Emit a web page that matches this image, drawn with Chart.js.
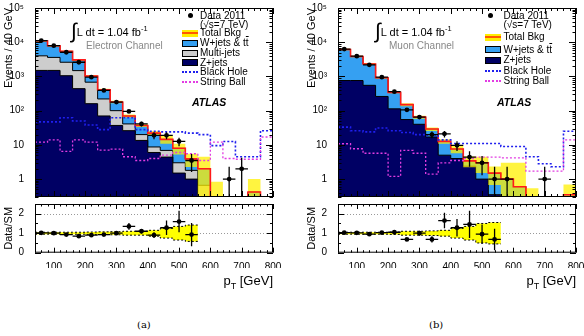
<!DOCTYPE html>
<html>
<head>
<meta charset="utf-8">
<script src="https://cdn.jsdelivr.net/npm/chart.js@4.4.1/dist/chart.umd.min.js"></script>
<style>
  html, body { margin: 0; padding: 0; background: #fff; }
  body { width: 584px; height: 336px; position: relative; overflow: hidden;
         font-family: "Liberation Sans", Arial, Helvetica, sans-serif; }
  .pad { position: absolute; }
  .txt { position: absolute; white-space: nowrap; color: #000; font-size: 10px; line-height: 12px; }
  .sym { position: absolute; box-sizing: border-box; }
  .dot { position: absolute; width: 5px; height: 5px; border-radius: 50%; background: #000; }
  .ov { text-decoration: overline; }
</style>
</head>
<body>
<div class="pad" style="left:0;top:0;width:290px;height:205px"><canvas id="elMain"></canvas></div>
<div class="pad" style="left:0;top:200px;width:290px;height:68px"><canvas id="elRatio"></canvas></div>
<div class="pad" style="left:303px;top:0;width:281px;height:205px"><canvas id="muMain"></canvas></div>
<div class="pad" style="left:303px;top:200px;width:281px;height:68px"><canvas id="muRatio"></canvas></div>

<!-- electron panel texts -->
<div class="txt" style="left:71px;top:22px;font-size:11px;line-height:14px"><span style="font-size:21px;position:relative;top:2px">&int;</span>L dt = 1.04 fb<sup style="font-size:7.5px">-1</sup></div>
<div class="txt" style="left:86px;top:40px;color:#888">Electron Channel</div>
<div class="txt" style="left:192px;top:96px;font-weight:bold;font-style:italic;font-size:10.5px">ATLAS</div>

<div class="dot" style="left:187.5px;top:13.2px"></div>
<div class="txt" style="left:200px;top:9.7px">Data 2011</div>
<div class="txt" style="left:200px;top:18.5px">(&radic;<span class="ov">s</span>=7 TeV)</div>
<div class="sym" style="left:182px;top:29.8px;width:16px;height:7px;background:#ffee00"></div>
<div class="sym" style="left:182px;top:32.3px;width:16px;height:2px;background:#ff5a00"></div>
<div class="txt" style="left:200px;top:27.3px">Total Bkg</div>
<div class="sym" style="left:182px;top:39.8px;width:16px;height:7px;background:#35a0f2;border:1px solid #000"></div>
<div class="txt" style="left:200px;top:37.3px">W+jets &amp; t<span class="ov">t</span></div>
<div class="sym" style="left:182px;top:49.8px;width:16px;height:7px;background:#cdcdcd;border:1px solid #000"></div>
<div class="txt" style="left:200px;top:47.3px">Multi-jets</div>
<div class="sym" style="left:182px;top:59.2px;width:16px;height:7px;background:#000064;border:1px solid #000"></div>
<div class="txt" style="left:200px;top:56.7px">Z+jets</div>
<div class="sym" style="left:182px;top:71.3px;width:16px;height:0;border-top:2px dotted #1f1fee"></div>
<div class="txt" style="left:200px;top:66.3px">Black Hole</div>
<div class="sym" style="left:182px;top:80.7px;width:16px;height:0;border-top:2px dotted #e23de2"></div>
<div class="txt" style="left:200px;top:75.7px">String Ball</div>

<!-- muon panel texts -->
<div class="txt" style="left:375px;top:22px;font-size:11px;line-height:14px"><span style="font-size:21px;position:relative;top:2px">&int;</span>L dt = 1.04 fb<sup style="font-size:7.5px">-1</sup></div>
<div class="txt" style="left:389px;top:40px;color:#888">Muon Channel</div>
<div class="txt" style="left:497px;top:96px;font-weight:bold;font-style:italic;font-size:10.5px">ATLAS</div>

<div class="dot" style="left:487.5px;top:13.2px"></div>
<div class="txt" style="left:503.5px;top:9.7px">Data 2011</div>
<div class="txt" style="left:503.5px;top:18.5px">(&radic;<span class="ov">s</span>=7 TeV)</div>
<div class="sym" style="left:485px;top:33.8px;width:16px;height:7px;background:#ffee00"></div>
<div class="sym" style="left:485px;top:36.3px;width:16px;height:2px;background:#ff5a00"></div>
<div class="txt" style="left:503.5px;top:31.3px">Total Bkg</div>
<div class="sym" style="left:485px;top:46px;width:16px;height:7px;background:#35a0f2;border:1px solid #000"></div>
<div class="txt" style="left:503.5px;top:43.5px">W+jets &amp; t<span class="ov">t</span></div>
<div class="sym" style="left:485px;top:56.5px;width:16px;height:7px;background:#000064;border:1px solid #000"></div>
<div class="txt" style="left:503.5px;top:54px">Z+jets</div>
<div class="sym" style="left:485px;top:70px;width:16px;height:0;border-top:2px dotted #1f1fee"></div>
<div class="txt" style="left:503.5px;top:65px">Black Hole</div>
<div class="sym" style="left:485px;top:80px;width:16px;height:0;border-top:2px dotted #e23de2"></div>
<div class="txt" style="left:503.5px;top:75px">String Ball</div>

<div class="txt" style="right:311px;top:273px;font-size:13px;line-height:15px">p<sub style="font-size:9px">T</sub> [GeV]</div>
<div class="txt" style="right:8px;top:273px;font-size:13px;line-height:15px">p<sub style="font-size:9px">T</sub> [GeV]</div>
<div class="txt" style="left:137px;top:319px;font-family:'DejaVu Serif','Liberation Serif',serif;font-size:10px">(a)</div>
<div class="txt" style="left:429px;top:319px;font-family:'DejaVu Serif','Liberation Serif',serif;font-size:10px">(b)</div>

<script>
// bin centres (GeV), 40 GeV wide bins from 40 to 800
const ptBins = [60, 100, 140, 180, 220, 260, 300, 340, 380, 420, 460, 500, 540, 580, 620, 660, 700, 740, 780];
const binHalf = 20;
const xTicks = [100, 200, 300, 400, 500, 600, 700, 800];
const logTicks = [1, 10, 100, 1000, 10000, 100000];
const ratioTicks = [0, 1, 2];

// electron channel
const elData       = [11200, 7900, 5100, 2600, 950, 390, 178, 95, 41, 19, 19, 12.6, 3.5, null, null, 1, 2, null, null];
const elDataErr    = [106, 89, 71, 51, 31, 20, 13, 10, 6.4, 4.4, 4.4, 3.5, 1.9, null, null, 1.3, 2.2, null, null];
const elZjets      = [1500, 1500, 1050, 440, 160, 70, 37, 26, 13.5, 6, 4.4, 1.5, 1.0, 0, 0, 0, 0, 0, 0];
const elMultijet   = [2500, 2100, 1550, 1040, 520, 150, 63, 15, 6.5, 2.7, 2.5, 1.5, 0.8, 0.66, 0, 0, 0, 0, 0];
const elWjets      = [7000, 4300, 2800, 1570, 340, 190, 80, 29, 17, 13.3, 7.6, 5.0, 2.1, 1.34, 0.3, 0.3, 0.3, 0.42, 0.3];
const elBkgRelErr  = [0.05, 0.05, 0.05, 0.05, 0.06, 0.07, 0.08, 0.1, 0.1, 0.15, 0.25, 0.35, 0.42, 1.25, 1.8, 0, 0, 1.4, 0];
const elBlackHole  = [47, 47, 62, 50, 38, 28, 62, 62, 28, 25, 24, 24, 22, 20, 9.5, 12.5, 4.5, 4.5, 26];
const elStringBall = [12, 14, 6.5, 14, 12, 7, 7.5, 4.5, 3.5, 4, 5, 6, 5.5, 3.5, 12, 4, 3.8, 3.8, 17];
const elRatio      = [1.02, 1.0, 0.93, 0.85, 0.9, 0.93, 1.0, 1.35, 1.1, 0.9, 1.28, 1.6, 0.93];
const elRatioErr   = [0.02, 0.02, 0.02, 0.03, 0.04, 0.05, 0.08, 0.17, 0.12, 0.15, 0.37, 0.55, 0.6];

// muon channel
const muData       = [6300, 3900, 2180, 950, 360, 106, 65, 20, 21, 9.7, 4.4, 3.0, 1, 1, null, null, 1, null, null];
const muDataErr    = [80, 62, 47, 31, 19, 10, 8, 4.5, 4.6, 3.1, 2.1, 1.7, 1.3, 1.3, null, null, 1.3, null, null];
const muZjets      = [760, 760, 550, 260, 113, 55, 40, 17, 5, 4, 2.4, 1.0, 0.35, 0, 0, 0, 0, 0, 0];
const muWjets      = [5340, 3060, 1750, 660, 230, 95, 25, 12, 7.7, 3.6, 1.0, 2.0, 1.15, 1.0, 0.6, 0.3, 0.3, 0.3, 0.35];
const muBkgRelErr  = [0.05, 0.05, 0.05, 0.05, 0.06, 0.1, 0.1, 0.12, 0.15, 0.25, 0.35, 0.5, 0.55, 2.0, 4.0, 0.8, 0, 0, 1.0];
const muBlackHole  = [33, 26, 24, 31, 26, 23, 20, 19, 14, 11, 11, 11, 11, 9, 9, 4.5, 2.8, 2.3, 25];
const muStringBall = [10.8, 7.7, 5.7, 5.7, 1.2, 6.9, 5.7, 1.4, 3, 3.5, 4, 4.4, 4.4, 4.2, 4.2, 1.7, 1.7, 1.7, 14];
const muRatio      = [1.03, 1.02, 0.95, 1.03, 1.05, 0.68, 1.0, 0.68, 1.65, 1.28, 1.45, 0.95, 0.68];
const muRatioErr   = [0.02, 0.02, 0.03, 0.04, 0.06, 0.07, 0.13, 0.16, 0.4, 0.45, 0.7, 0.5, 0.55];

const COL = {
  zjets: '#000064', multijet: '#cdcdcd', wjets: '#35a0f2',
  band: 'rgba(255,240,0,0.75)', total: '#ff1a1a', bh: '#1f1fee', sb: '#e23de2'
};
const LOG_FLOOR = 0.01;   // empty bins sit below the axis minimum

Chart.defaults.font.family = '"Liberation Sans", Arial, Helvetica, sans-serif';
Chart.defaults.color = '#000';

const SUP = '⁰¹²³⁴⁵⁶⁷⁸⁹';
function fmtPow(v) {
  const e = Math.round(Math.log10(v));
  if (e === 0) return '1';
  if (e === 1) return '10';
  return '10' + SUP[e];
}

// histogram outline: one point per bin low edge, plus closing edge
function histPoints(vals, n, floor) {
  const pts = [];
  for (let i = 0; i < n; i++) {
    let v = vals[i];
    if (floor !== undefined && !(v > floor)) v = floor;
    pts.push({ x: ptBins[i] - binHalf, y: v });
  }
  pts.push({ x: ptBins[n - 1] + binHalf, y: pts[n - 1].y });
  return pts;
}

// keep the plot frame where the layout padding puts it
function fixY(width) {
  return s => { s.width = width; s.paddingTop = 0; s.paddingBottom = 0; };
}
function fixX(height) {
  return s => { s.height = height; s.paddingLeft = 0; s.paddingRight = 0; };
}

// frame, inward ticks (ROOT style) and data error bars
function framePlugin(opt) {
  return {
    id: 'frame',
    beforeDatasetsDraw(chart) {
      if (!opt.refLines) return;
      const { ctx, chartArea: a, scales: { y } } = chart;
      ctx.save();
      ctx.strokeStyle = '#999';
      ctx.lineWidth = 1;
      ctx.setLineDash([1, 2]);
      opt.refLines.forEach(v => {
        const py = Math.round(y.getPixelForValue(v)) + 0.5;
        ctx.beginPath(); ctx.moveTo(a.left, py); ctx.lineTo(a.right, py); ctx.stroke();
      });
      ctx.restore();
    },
    afterDatasetsDraw(chart) {
      const { ctx, chartArea: a, scales: { x, y } } = chart;
      ctx.save();
      ctx.beginPath();
      ctx.rect(a.left, a.top, a.right - a.left, a.bottom - a.top);
      ctx.clip();
      ctx.strokeStyle = '#000';
      ctx.lineWidth = 1.3;
      opt.vals.forEach((v, i) => {
        if (v == null) return;
        const e = opt.errs[i];
        const lo = opt.log ? Math.max(v - e, y.min) : v - e;
        const py = y.getPixelForValue(v);
        const px = x.getPixelForValue(ptBins[i]);
        ctx.beginPath();
        ctx.moveTo(x.getPixelForValue(ptBins[i] - binHalf), py);
        ctx.lineTo(x.getPixelForValue(ptBins[i] + binHalf), py);
        ctx.moveTo(px, y.getPixelForValue(lo));
        ctx.lineTo(px, y.getPixelForValue(v + e));
        ctx.stroke();
      });
      ctx.restore();

      ctx.save();
      ctx.strokeStyle = '#000';
      ctx.lineWidth = 1;
      ctx.strokeRect(a.left + 0.5, a.top + 0.5, a.right - a.left - 1, a.bottom - a.top - 1);
      ctx.beginPath();
      for (let v = x.min; v <= x.max; v += 20) {
        const len = v % 100 === 0 ? opt.xMajor : opt.xMajor / 2;
        const px = Math.round(x.getPixelForValue(v)) + 0.5;
        ctx.moveTo(px, a.bottom); ctx.lineTo(px, a.bottom - len);
        ctx.moveTo(px, a.top); ctx.lineTo(px, a.top + len);
      }
      const yt = [];
      if (opt.log) {
        for (let d = -1; d <= 5; d++) {
          for (let m = 1; m <= 9; m++) {
            const v = m * Math.pow(10, d);
            if (v >= y.min && v <= y.max) yt.push([v, m === 1]);
          }
        }
      } else {
        for (let v = y.min; v <= y.max + 1e-9; v += 0.5) yt.push([v, Math.abs(v - Math.round(v)) < 1e-9]);
      }
      yt.forEach(([v, major]) => {
        const len = major ? opt.yMajor : opt.yMajor / 2;
        const py = Math.round(y.getPixelForValue(v)) + 0.5;
        ctx.moveTo(a.left, py); ctx.lineTo(a.left + len, py);
        ctx.moveTo(a.right, py); ctx.lineTo(a.right - len, py);
      });
      ctx.stroke();
      ctx.restore();
    }
  };
}

function drawMain(id, layers, relErr, blackHole, stringBall, data, dataErr, padR) {
  const n = ptBins.length;
  let run = ptBins.map(() => 0);
  const stacks = layers.map(l => {
    run = run.map((v, i) => v + l.vals[i]);
    return { top: run, color: l.color };
  });
  const total = run;
  const bandHi = total.map((v, i) => v * (1 + relErr[i]));
  const bandLo = total.map((v, i) => v * (1 - relErr[i]));

  const datasets = stacks.map((s, k) => ({
    data: histPoints(s.top, n, LOG_FLOOR), stepped: true, fill: 'start',
    backgroundColor: s.color, borderColor: '#000', borderWidth: 1, order: 10 + k
  }));
  const loIdx = datasets.length;
  datasets.push({ data: histPoints(bandLo, n, LOG_FLOOR), stepped: true, fill: false,
    borderColor: 'rgba(0,0,0,0)', borderWidth: 0, order: 9 });
  datasets.push({ data: histPoints(bandHi, n, LOG_FLOOR), stepped: true, fill: loIdx,
    backgroundColor: COL.band, borderColor: 'rgba(0,0,0,0)', borderWidth: 0, order: 8 });
  datasets.push({ data: histPoints(total, n, LOG_FLOOR), stepped: true, fill: false,
    borderColor: COL.total, borderWidth: 1.6, order: 6 });
  datasets.push({ data: histPoints(blackHole, n), stepped: true, fill: false,
    borderColor: COL.bh, borderWidth: 1.6, borderDash: [2, 2], order: 5 });
  datasets.push({ data: histPoints(stringBall, n), stepped: true, fill: false,
    borderColor: COL.sb, borderWidth: 1.3, borderDash: [2, 2], order: 4 });
  datasets.push({ data: ptBins.map((x, i) => ({ x, y: data[i] })), showLine: false,
    pointRadius: 2.4, pointBackgroundColor: '#000', pointBorderWidth: 0, order: 1 });

  new Chart(document.getElementById(id), {
    type: 'line',
    data: { datasets },
    options: {
      responsive: true, maintainAspectRatio: false, animation: false, events: [],
      layout: { padding: { left: 0, right: padR, top: 8, bottom: 8 } },
      elements: { point: { radius: 0 }, line: { tension: 0 } },
      plugins: { legend: { display: false }, tooltip: { enabled: false } },
      scales: {
        x: { type: 'linear', min: 40, max: 800, display: false },
        y: {
          type: 'logarithmic', min: 0.3, max: 100000,
          afterFit: fixY(35),
          afterBuildTicks: s => { s.ticks = logTicks.map(v => ({ value: v })); },
          grid: { display: false }, border: { display: false },
          ticks: { padding: 3, font: { size: 10 }, autoSkip: false, callback: v => fmtPow(v) },
          title: { display: true, text: 'Events / 40 GeV', align: 'end', font: { size: 11 }, padding: { top: 2, bottom: 0 } }
        }
      }
    },
    plugins: [framePlugin({ log: true, vals: data, errs: dataErr, xMajor: 6, yMajor: 7 })]
  });
}

function drawRatio(id, ratio, ratioErr, relErr, padR) {
  const n = ratio.length;
  const hi = relErr.slice(0, n).map(e => 1 + e);
  const lo = relErr.slice(0, n).map(e => 1 - e);
  const datasets = [
    { data: histPoints(lo, n), stepped: true, fill: false,
      borderColor: '#000', borderWidth: 1, borderDash: [2, 2], order: 5 },
    { data: histPoints(hi, n), stepped: true, fill: 0, backgroundColor: '#ffff00',
      borderColor: '#000', borderWidth: 1, borderDash: [2, 2], order: 6 },
    { data: ratio.map((v, i) => ({ x: ptBins[i], y: v })), showLine: false,
      pointRadius: 2.4, pointBackgroundColor: '#000', pointBorderWidth: 0, order: 1 }
  ];
  new Chart(document.getElementById(id), {
    type: 'line',
    data: { datasets },
    options: {
      responsive: true, maintainAspectRatio: false, animation: false, events: [],
      layout: { padding: { left: 0, right: padR, top: 3, bottom: 0 } },
      elements: { point: { radius: 0 }, line: { tension: 0 } },
      plugins: { legend: { display: false }, tooltip: { enabled: false } },
      scales: {
        x: {
          type: 'linear', min: 40, max: 800,
          afterFit: fixX(15.3),
          afterBuildTicks: s => { s.ticks = xTicks.map(v => ({ value: v })); },
          grid: { display: false }, border: { display: false },
          ticks: { padding: 1, font: { size: 10 }, autoSkip: false, maxRotation: 0 }
        },
        y: {
          type: 'linear', min: 0, max: 2.5,
          afterFit: fixY(35),
          afterBuildTicks: s => { s.ticks = ratioTicks.map(v => ({ value: v })); },
          grid: { display: false }, border: { display: false },
          ticks: { padding: 3, font: { size: 10 } },
          title: { display: true, text: 'Data/SM', align: 'center', font: { size: 11 }, padding: { top: 2, bottom: 0 } }
        }
      }
    },
    plugins: [framePlugin({ log: false, vals: ratio, errs: ratioErr, xMajor: 5, yMajor: 6, refLines: [1, 2] })]
  });
}

drawMain('elMain',
  [{ vals: elZjets, color: COL.zjets }, { vals: elMultijet, color: COL.multijet }, { vals: elWjets, color: COL.wjets }],
  elBkgRelErr, elBlackHole, elStringBall, elData, elDataErr, 17);
drawRatio('elRatio', elRatio, elRatioErr, elBkgRelErr, 17);

drawMain('muMain',
  [{ vals: muZjets, color: COL.zjets }, { vals: muWjets, color: COL.wjets }],
  muBkgRelErr, muBlackHole, muStringBall, muData, muDataErr, 8);
drawRatio('muRatio', muRatio, muRatioErr, muBkgRelErr, 8);
</script>
</body>
</html>
